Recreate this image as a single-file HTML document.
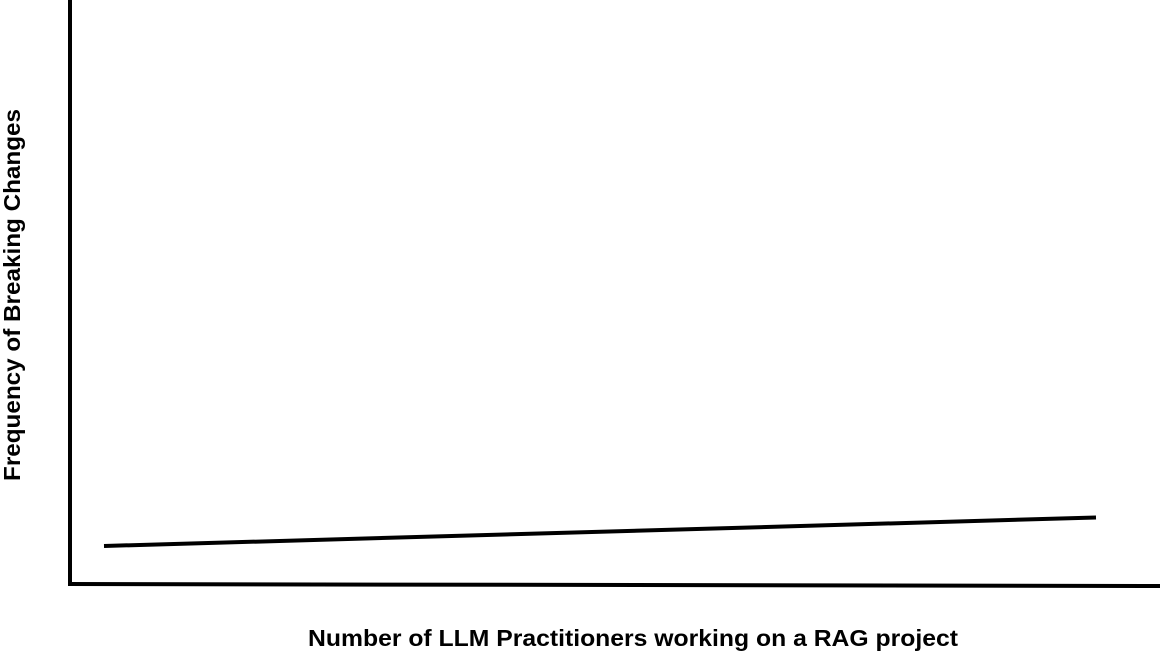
<!DOCTYPE html>
<html><head><meta charset="utf-8"><style>
html,body{margin:0;padding:0;background:#fff;width:1160px;height:654px;overflow:hidden}
svg{display:block}
text{font-family:"Liberation Sans",sans-serif;font-weight:bold;fill:#000}
</style></head><body>
<svg width="1160" height="654">
<line x1="70" y1="0" x2="70" y2="586" stroke="#000" stroke-width="4"/>
<line x1="68" y1="584" x2="1160" y2="586" stroke="#000" stroke-width="4"/>
<g id="series"></g>
<text x="633" y="646" text-anchor="middle" font-size="23" textLength="650" lengthAdjust="spacingAndGlyphs">Number of LLM Practitioners working on a RAG project</text>
<text transform="translate(20,295) rotate(-90)" text-anchor="middle" font-size="23" textLength="372" lengthAdjust="spacingAndGlyphs">Frequency of Breaking Changes</text>
</svg>
<script>
const xValues = [0, 10];
const yValues = [1.0, 1.75];
function xScale(v){return 104 + (v-0)/(10-0)*(1096-104);}
function yScale(v){return 584 - v*38;}
const g=document.getElementById('series');
const ns='http://www.w3.org/2000/svg';
const pl=document.createElementNS(ns,'polyline');


pl.setAttribute('points',xValues.map((x,i)=>xScale(x)+','+yScale(yValues[i])).join(' '));
pl.setAttribute('fill','none');
pl.setAttribute('stroke','#000');
pl.setAttribute('stroke-width','4');
g.appendChild(pl);
</script>
</body></html>
